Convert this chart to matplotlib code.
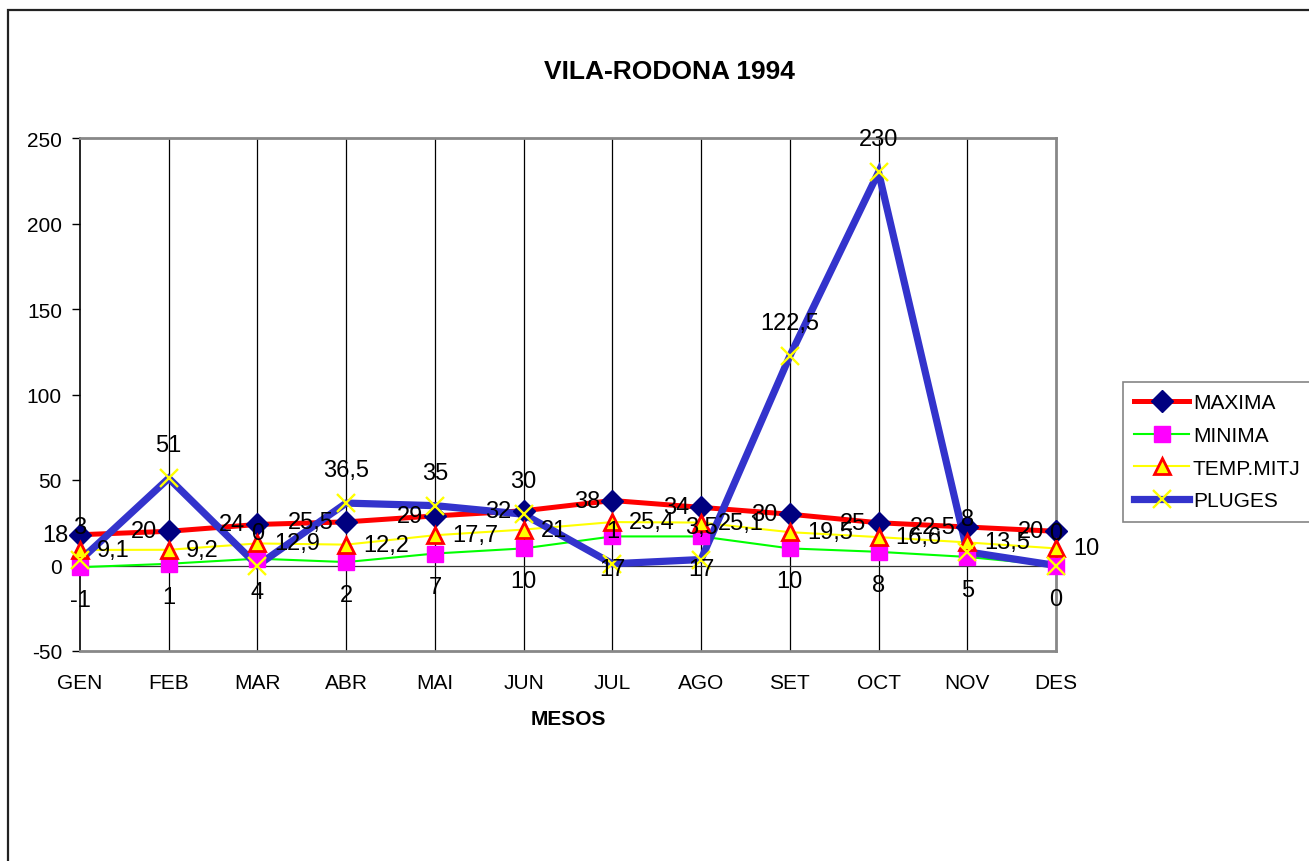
import matplotlib
matplotlib.use("Agg")
import matplotlib.pyplot as plt
from matplotlib.patches import Rectangle
from matplotlib.lines import Line2D

plt.rcParams['font.family'] = ['Liberation Sans', 'DejaVu Sans']

months = ["GEN", "FEB", "MAR", "ABR", "MAI", "JUN", "JUL", "AGO", "SET", "OCT", "NOV", "DES"]
maxima = [18, 20, 24, 25.5, 29, 32, 38, 34, 30, 25, 22.5, 20]
minima = [-1, 1, 4, 2, 7, 10, 17, 17, 10, 8, 5, 0]
temp_mitj = [9.1, 9.2, 12.9, 12.2, 17.7, 21, 25.4, 25.1, 19.5, 16.6, 13.5, 10]
pluges = [3, 51, 0, 36.5, 35, 30, 1, 3.5, 122.5, 230, 8, 0]
yticks = [-50, 0, 50, 100, 150, 200, 250]

W, H = 1309, 862
fig = plt.figure(figsize=(W / 100, H / 100), dpi=100)

# outer chart frame (cropped at right/bottom)
fig.patches.append(Rectangle((8 / W, -0.1), 1.2, 1 - 11 / H + 0.1, transform=fig.transFigure,
                             fill=False, edgecolor='#222222', linewidth=1.6))

ax = fig.add_axes([80 / W, (H - 652) / H, 976 / W, 513 / H])
x = list(range(len(months)))

def fmt(v):
    return ("%g" % v).replace('.', ',')

# lines
ax.plot(x, maxima, color='#FF0000', lw=3.6, zorder=3, solid_capstyle='round')
ax.plot(x, minima, color='#00FF00', lw=1.5, zorder=3)
ax.plot(x, temp_mitj, color='#FFFF00', lw=1.5, zorder=3)
ax.plot(x, pluges, color='#3333CC', lw=5.2, zorder=3, solid_capstyle='round', solid_joinstyle='miter')

# markers
ax.plot(x, maxima, ls='none', marker='D', ms=11.5, mfc='#000080', mec='#000080', zorder=4, clip_on=False)
ax.plot(x, minima, ls='none', marker='s', ms=11, mfc='#FF00FF', mec='#FF00FF', zorder=4, clip_on=False)
ax.plot(x, temp_mitj, ls='none', marker='^', ms=12, mfc='#FFFF00', mec='#FF0000', mew=2, zorder=4, clip_on=False)
ax.plot(x, pluges, ls='none', marker='x', ms=13, mec='#FFFF00', mew=1.7, zorder=5, clip_on=False)

fs = 17
for i in x:
    ax.annotate(fmt(maxima[i]), (i, maxima[i]), xytext=(-12, 0), textcoords='offset pixels',
                ha='right', va='center', fontsize=fs, zorder=6, annotation_clip=False)
    ax.annotate(fmt(minima[i]), (i, minima[i]), xytext=(0, -33), textcoords='offset pixels',
                ha='center', va='center', fontsize=fs, zorder=6, annotation_clip=False)
    ax.annotate(fmt(temp_mitj[i]), (i, temp_mitj[i]), xytext=(17, 0), textcoords='offset pixels',
                ha='left', va='center', fontsize=fs, zorder=6, annotation_clip=False)
    ax.annotate(fmt(pluges[i]), (i, pluges[i]), xytext=(0, 33), textcoords='offset pixels',
                ha='center', va='center', fontsize=fs, zorder=6, annotation_clip=False)

ax.set_xlim(0, 11)
ax.set_ylim(-50, 250)
ax.set_yticks(yticks)
ax.set_yticklabels([str(t) for t in yticks], fontsize=15)
ax.set_xticks(x)
ax.set_xticklabels(months, fontsize=15)
ax.tick_params(axis='y', direction='out', length=6, width=1, pad=7, color='black')
ax.tick_params(axis='x', length=0, pad=16)

# gridlines at categories
for i in x[1:-1]:
    ax.axvline(i, color='black', lw=0.9, zorder=1)
ax.axhline(0, color='#333333', lw=0.9, zorder=1)

for s in ['top', 'right', 'bottom']:
    ax.spines[s].set_color('#888888')
    ax.spines[s].set_linewidth(2)
ax.spines['left'].set_color('black')
ax.spines['left'].set_linewidth(1.2)
ax.spines['left'].set_zorder(2)

ax.set_xlabel('MESOS', fontsize=15, fontweight='bold', labelpad=12)

fig.text(669 / W, 1 - 72 / H, 'VILA-RODONA 1994', ha='center', va='center',
         fontsize=19, fontweight='bold')

handles = [
    Line2D([], [], color='#FF0000', lw=3.6, marker='D', ms=11.5, mfc='#000080', mec='#000080'),
    Line2D([], [], color='#00FF00', lw=1.5, marker='s', ms=11, mfc='#FF00FF', mec='#FF00FF'),
    Line2D([], [], color='#FFFF00', lw=1.5, marker='^', ms=12, mfc='#FFFF00', mec='#FF0000', mew=2),
    Line2D([], [], color='#3333CC', lw=5.2, marker='x', ms=13, mec='#FFFF00', mew=1.7),
]
leg = fig.legend(handles, ["MAXIMA", "MINIMA", "TEMP.MITJ", "PLUGES"],
                 loc='upper left', bbox_to_anchor=(1123 / W, 1 - 383 / H),
                 fontsize=15, frameon=True, fancybox=False, edgecolor='#666666',
                 handlelength=2.6, handletextpad=0.2, labelspacing=0.65,
                 borderpad=0.55, borderaxespad=0)
leg.get_frame().set_linewidth(1.2)

fig.savefig('out.png', dpi=100)
